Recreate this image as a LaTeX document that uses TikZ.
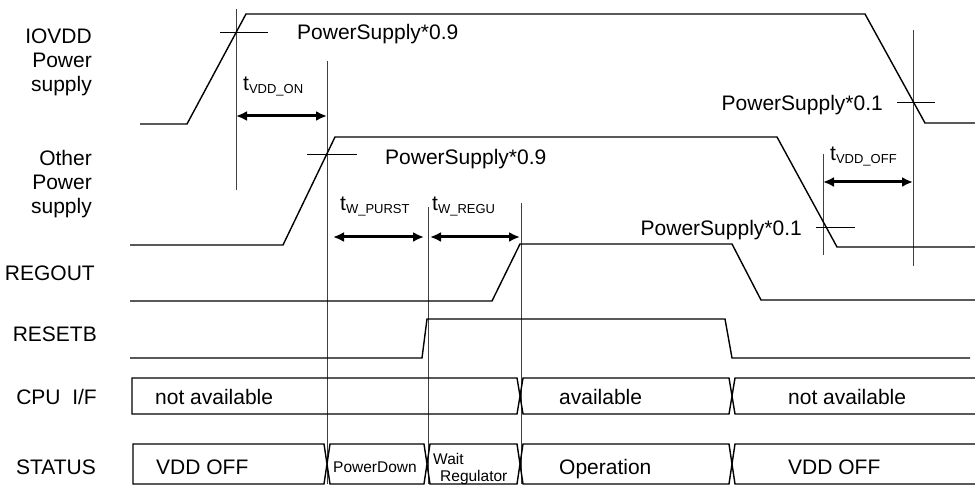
\documentclass[tikz,border=0pt]{standalone}
\usepackage{fontspec}
\setmainfont{Liberation Sans}
\usetikzlibrary{arrows.meta}
\begin{document}
\begin{tikzpicture}[x=1pt,y=-1pt,
  sig/.style={line width=1.4pt,black,line join=miter},
  vmarker/.style={line width=1pt,black!75},
  tickh/.style={line width=1pt,black},
  dimarrow/.style={line width=3pt,{Latex[length=11pt,width=10pt]}-{Latex[length=11pt,width=10pt]}},
  lbl/.style={font=\fontsize{21}{24}\selectfont,inner sep=0pt},
  smalltxt/.style={font=\fontsize{15.5}{17}\selectfont,inner sep=0pt},
]
\newcommand{\subtxt}[1]{\raisebox{-2.5pt}{\fontsize{13}{13}\selectfont #1}}
\useasboundingbox (0,0) rectangle (975,486);

% left labels
\node[lbl,anchor=base east] (l1a) at (92,44) {IOVDD};
\node[lbl,anchor=base east] (l1b) at (92,68) {Power};
\node[lbl,anchor=base east] (l1c) at (92,92) {supply};
\node[lbl,anchor=base east] (l2a) at (92,166) {Other};
\node[lbl,anchor=base east] (l2b) at (92,190) {Power};
\node[lbl,anchor=base east] (l2c) at (92,214) {supply};
\node[lbl,anchor=base east] (l3) at (95,281) {REGOUT};
\node[lbl,anchor=base east] (l4) at (97,342) {RESETB};
\node[lbl,anchor=base east] (l5) at (97,404) {CPU~~I/F};
\node[lbl,anchor=base east] (l6) at (96,474) {STATUS};

% marker verticals
\draw[vmarker] (236,9) -- (236,190);
\draw[vmarker] (327,61) -- (327,484);
\draw[vmarker] (428,207) -- (428,484);
\draw[vmarker] (521,203) -- (521,484);
\draw[vmarker] (823,154) -- (823,255);
\draw[vmarker] (913,30) -- (913,266);

% signals
\draw[sig] (140,124) -- (187,124) -- (246,14) -- (865,14) -- (925,123) -- (975,123);
\draw[sig] (130,245) -- (283,245) -- (335,137) -- (777,137) -- (837,247) -- (975,247);
\draw[sig] (130,301) -- (492,301) -- (520,244) -- (732,244) -- (761,300) -- (975,300);
\draw[sig] (130,358) -- (422,358) -- (427,319) -- (725,319) -- (732,358) -- (970,358);

% threshold ticks
\draw[tickh] (220,33) -- (268,33);
\draw[tickh] (307,155) -- (357,155);
\draw[tickh] (897,103) -- (935,103);
\draw[tickh] (816,228) -- (855,228);

% buses
\draw[sig] (975,378) -- (735,378) -- (729,414) -- (523,414) -- (517,378) -- (132,378) -- (132,414)
  -- (517,414) -- (523,378) -- (729,378) -- (735,414) -- (975,414);
\draw[sig] (975,444) -- (735,444) -- (729,484) -- (523,484) -- (517,444) -- (430,444) -- (424,484)
  -- (330,484) -- (324,444) -- (133,444) -- (133,484) -- (324,484) -- (330,444) -- (424,444)
  -- (430,484) -- (517,484) -- (523,444) -- (729,444) -- (735,484) -- (975,484);

% threshold labels
\node[lbl,anchor=base west] (p1) at (297,40) {PowerSupply*0.9};
\node[lbl,anchor=base west] (p2) at (385,165) {PowerSupply*0.9};
\node[lbl,anchor=base east] (p3) at (883,111) {PowerSupply*0.1};
\node[lbl,anchor=base east] (p4) at (802,236) {PowerSupply*0.1};

% timing arrows
\coordinate (a1) at (236,116); \coordinate (a2) at (327,116);
\draw[dimarrow] (a1) -- (a2);
\coordinate (b1) at (333,237); \coordinate (b2) at (424,237);
\draw[dimarrow] (b1) -- (b2);
\coordinate (c1) at (430,237); \coordinate (c2) at (520,237);
\draw[dimarrow] (c1) -- (c2);
\coordinate (d1) at (823,182); \coordinate (d2) at (913,182);
\draw[dimarrow] (d1) -- (d2);

\node[lbl,anchor=base west] (t1) at (243,91) {t\subtxt{VDD\_ON}};
\node[lbl,anchor=base west] (t2) at (340,211) {t\subtxt{W\_PURST}};
\node[lbl,anchor=base west] (t3) at (432,211) {t\subtxt{W\_REGU}};
\node[lbl,anchor=base west] (t4) at (830,161) {t\subtxt{VDD\_OFF}};

% bus texts
\node[lbl,anchor=base west] (c1t) at (155,404) {not available};
\node[lbl,anchor=base west] (c2t) at (559,404) {available};
\node[lbl,anchor=base west] (c3t) at (788,404) {not available};
\node[lbl,anchor=base west] (s1) at (156,474) {VDD OFF};
\node[smalltxt,anchor=base west] (s2) at (333,472) {PowerDown};
\node[smalltxt,anchor=base west] (s3a) at (433,464) {Wait};
\node[smalltxt,anchor=base west] (s3b) at (440,481) {Regulator};
\node[lbl,anchor=base west] (s4) at (559,474) {Operation};
\node[lbl,anchor=base west] (s5) at (788,474) {VDD OFF};
\end{tikzpicture}
\end{document}
